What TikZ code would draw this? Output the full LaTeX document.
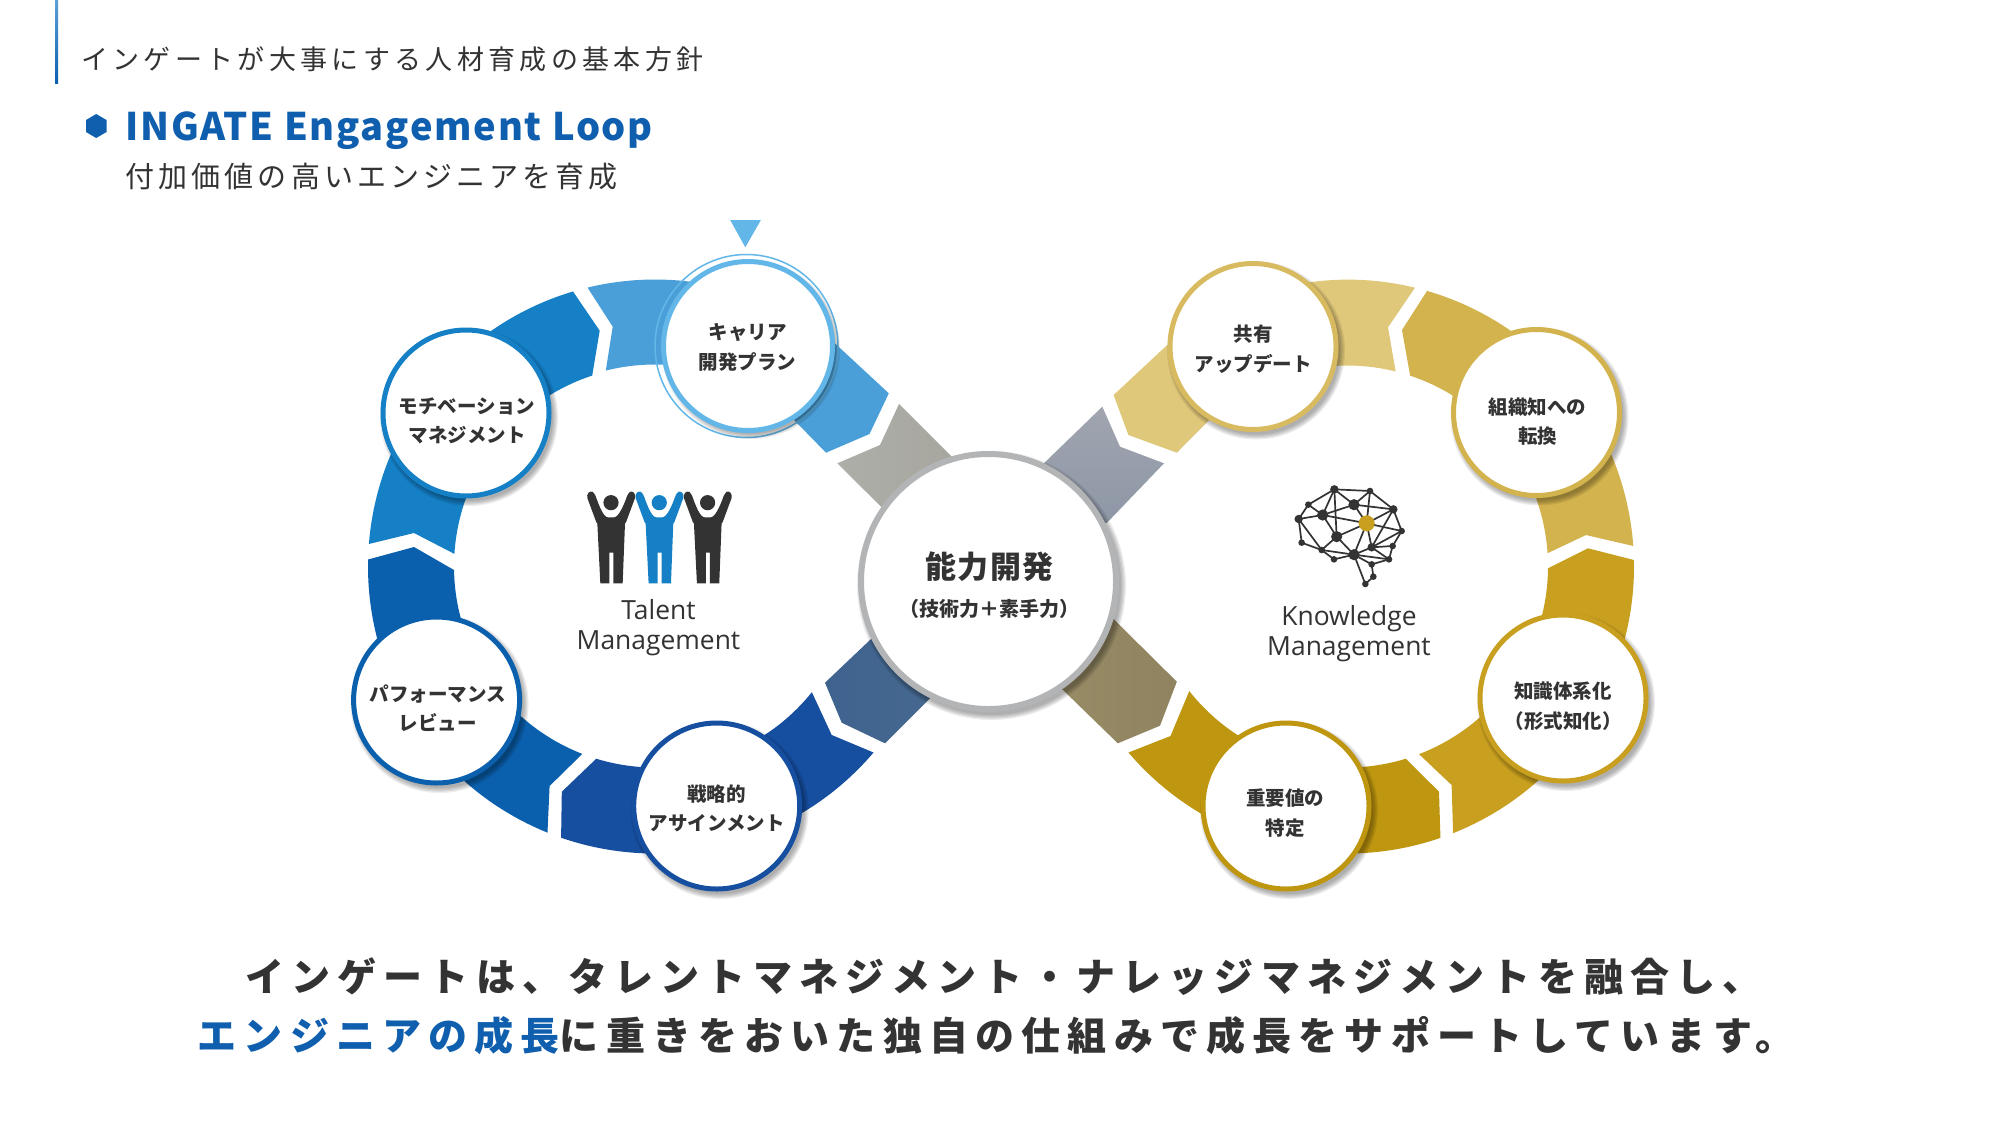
\documentclass[tikz,border=0pt]{standalone}
\usepackage{fontspec}
\usetikzlibrary{calc}
\newfontfamily\jpbase{Noto Sans CJK JP}
\newfontfamily\jphead[LetterSpace=16]{Noto Sans CJK JP}
\newfontfamily\jpsub[LetterSpace=14]{Noto Sans CJK JP}
\newfontfamily\jptitle[LetterSpace=4.6]{Noto Sans CJK JP}
\newfontfamily\jpbig[LetterSpace=18.4]{Noto Sans CJK JP}
\newfontfamily\jpcore[LetterSpace=5]{Noto Sans CJK JP}
\newfontfamily\latlabel{Open Sans}
\definecolor{ink}{HTML}{333333}
\definecolor{cCareer}{HTML}{4B9FD9}
\definecolor{cMotiv}{HTML}{1580C6}
\definecolor{cPerf}{HTML}{0B60AE}
\definecolor{cStrat}{HTML}{164EA0}
\definecolor{cShare}{HTML}{DFC87A}
\definecolor{cOrg}{HTML}{D3B34E}
\definecolor{cKnow}{HTML}{C89F1E}
\definecolor{cGold}{HTML}{BE960F}
\definecolor{cTitle}{HTML}{0F5FAE}
\definecolor{cCore}{HTML}{B2B4B6}
\definecolor{cMark}{HTML}{63B7E8}
\definecolor{cBar}{HTML}{5BA0D8}
\definecolor{armGrayA}{HTML}{AEAEA9}
\definecolor{armGrayB}{HTML}{A6A69E}
\definecolor{armSteelA}{HTML}{A0A5AF}
\definecolor{armSteelB}{HTML}{8D96A6}
\definecolor{armNavyA}{HTML}{3F638F}
\definecolor{armNavyB}{HTML}{47698F}
\definecolor{armTanA}{HTML}{9A8E68}
\definecolor{armTanB}{HTML}{8F8360}
\tikzset{
  stagebox/.style={circle,fill=white,line width=5pt,minimum size=166pt,inner sep=0pt},
  stagetext/.style={inner sep=0pt,text=ink,align=center,font=\jpbase\bfseries\fontsize{19.5}{29.5}\selectfont},
  headtext/.style={anchor=base west,inner sep=0pt,text=ink},
  mgmt/.style={align=center,text=ink,inner sep=0pt,font=\latlabel\fontsize{26.4}{30}\selectfont},
  brainedge/.style={draw=ink,line width=1.7pt},
}
\newcommand\softshadow[3]{%
  \foreach \sd in {4,2.8,1.6,0.4,-1}{\fill[black,opacity=.07] (#1+3,#2-4) circle ({#3+\sd});}}
% name, x, y, colour, text dx, text dy, text
\newcommand\stagenode[7]{%
  \softshadow{#2}{#3}{85}
  \node[stagebox,draw=#4] (#1) at (#2,#3) {};
  \node[stagetext] (#1-text) at (#2+#5,#3+#6) {#7};}
\newcommand\personicon[2]{%
  \begin{scope}[shift={(#1,-470)},x=.3333pt,y=-.3333pt]
    \fill[#2,rounded corners=3pt] (79,76) -- (92,61) -- (104,70) .. controls (118,110) and (131,142) .. (153,142)
      .. controls (175,142) and (190,110) .. (204,70) -- (216,61) -- (228,76) -- (195,165) -- (112,165) -- cycle;
    \fill[#2] (112,160) -- (121,340) -- (148,340) -- (148,248) -- (160,248) -- (160,340) -- (188,340) -- (195,160) -- cycle;
    \fill[#2] (153,98) circle (7.6pt);
  \end{scope}}
\begin{document}
\begin{tikzpicture}[x=1pt,y=1pt]
\useasboundingbox (0,0) rectangle (2001,-1125);
\fill[white] (0,0) rectangle (2001,-1125);
\shade[top color=cBar,bottom color=cPerf] (55,0) rectangle (58,-83);

% heading
\node[headtext] (head) at (81,-69.5) {\jphead\fontsize{27}{30}\selectfont インゲートが大事にする人材育成の基本方針};
\fill[cTitle] (96.2,-114) -- (106.5,-120) -- (106.5,-132) -- (96.2,-138) -- (86,-132) -- (86,-120) -- cycle;
\node[headtext,text=cTitle] (title) at (125,-140.5) {\jptitle\bfseries\fontsize{38}{44}\selectfont INGATE Engagement Loop};
\node[headtext] (subtitle) at (125.5,-187) {\jpsub\fontsize{29}{34}\selectfont 付加価値の高いエンジニアを育成};

\coordinate (L) at (655,-566.5);
\coordinate (R) at (1347,-566.5);

% left ring
\fill[cStrat] (L) ++(-40.4:287) arc[start angle=-40.4,end angle=-109.1,radius=287]
  -- (561.8,-791.7) -- ($(L)+(-107:201)$) arc[start angle=-107,end angle=-38.7,radius=201] -- (831.7,-735) -- cycle;
\fill[cPerf] (L) ++(-112:287) arc[start angle=-112,end angle=-181.4,radius=287]
  -- (414,-547) -- ($(L)+(-179:201)$) arc[start angle=-179,end angle=-111.2,radius=201] -- (549.6,-786) -- cycle;
\fill[cMotiv] (L) ++(175.5:287) arc[start angle=175.5,end angle=106.6,radius=287]
  -- (599.7,-330.7) -- ($(L)+(108.2:201)$) arc[start angle=108.2,end angle=176.4,radius=201] -- (414,-533) -- cycle;
\fill[cCareer] (L) ++(103.6:287) arc[start angle=103.6,end angle=52,radius=287]
  -- (888.8,-393.3) -- (869.5,-434) -- (826,-452.7) -- ($(L)+(46.6:202)$) arc[start angle=46.6,end angle=104.1,radius=202] -- (612.7,-326.7) -- cycle;

% right ring
\fill[cGold] (R) ++(220.4:287) arc[start angle=220.4,end angle=289,radius=287]
  -- (1439,-791.7) -- ($(R)+(287:201)$) arc[start angle=287,end angle=218.3,radius=201] -- (1170.5,-736) -- cycle;
\fill[cKnow] (R) ++(291.7:287) arc[start angle=291.7,end angle=361.3,radius=287]
  -- (1588,-548.3) -- ($(R)+(359.5:201)$) arc[start angle=359.5,end angle=291,radius=201] -- (1451.6,-785) -- cycle;
\fill[cOrg] (R) ++(4.1:287) arc[start angle=4.1,end angle=73.8,radius=287]
  -- (1402,-330) -- ($(R)+(71.7:201)$) arc[start angle=71.7,end angle=3.8,radius=201] -- (1585.9,-535) -- cycle;
\fill[cShare] (R) ++(76.3:287) arc[start angle=76.3,end angle=129.3,radius=283]
  -- (1113.6,-395) -- (1128.4,-435) -- (1176.8,-452.7) -- ($(R)+(133.8:201)$) arc[start angle=133.8,end angle=76,radius=201] -- (1388,-327.3) -- cycle;

% arms into the centre
\shade[left color=armGrayA,right color=armGrayB]
  (899,-404) -- (880,-445) -- (837.3,-463.3) -- (881.7,-507.3) -- (930,-530) -- (965,-470) -- (950,-455) -- cycle;
\shade[top color=armSteelA,bottom color=armSteelB]
  (1102.3,-406.7) -- (1120,-446.7) -- (1164,-463.3) -- (1107,-522.7) -- (1060,-530) -- (1030,-480) -- (1045.5,-461.7) -- cycle;
\shade[left color=armNavyA,right color=armNavyB]
  (825,-682.7) -- (841.7,-722.7) -- (885,-743.3) -- (930,-698.3) -- (950,-660) -- (890,-620) -- (870.7,-639.3) -- cycle;
\shade[left color=armTanA,right color=armTanB]
  (1176.8,-681.7) -- (1160,-725.7) -- (1117.8,-743.3) -- (1063,-690) -- (1030,-670) -- (1095,-600) -- (1114.5,-620) -- cycle;

% marker above the active stage
\fill[cMark] (730.2,-220) -- (760.9,-220) -- (745.3,-247.3) -- cycle;

% stages, left ring
\draw[cMark,line width=1.5pt] (746.5,-346) circle (91.5);
\softshadow{748}{-346}{85}
\node[stagebox,draw=cMark,minimum size=169pt] (career) at (748,-346) {};
\node[stagetext] (career-text) at (747.5,-347.5) {キャリア\\開発プラン};
\stagenode{motivation}{466}{-413}{cMotiv}{1}{-8}{モチベーション\\マネジメント}
\stagenode{performance}{436.6}{-700}{cPerf}{1}{-8}{パフォーマンス\\レビュー}
\stagenode{strategic}{716.7}{-806}{cStrat}{0}{-2.5}{戦略的\\アサインメント}

% stages, right ring
\stagenode{share}{1253}{-346.5}{cOrg!60!cShare}{0}{-2.5}{共有\\アップデート}
\stagenode{orgknow}{1536.5}{-412.5}{cOrg}{1}{-9}{組織知への\\転換}
\stagenode{systematize}{1563}{-698}{cKnow}{0}{-8}{知識体系化\\（形式知化）}
\stagenode{keyvalue}{1286}{-806}{cGold}{-1}{-7}{重要値の\\特定}

% centre
\foreach \sd in {4,2.8,1.6,0.4,-1}{\fill[black,opacity=.07] (991.5,-585.5) circle ({130.5+\sd});}
\node[circle,fill=white,draw=cCore,line width=6pt,minimum size=255pt,inner sep=0pt] (core) at (988.5,-581.5) {};
\node[inner sep=0pt,text=ink,align=center] (core-text) at (989.5,-585)
  {{\jpcore\bfseries\fontsize{31}{40}\selectfont 能力開発}\\[16pt]{\jpbase\bfseries\fontsize{20}{24}\selectfont （技術力＋素手力）}};

% people icon
\personicon{560}{ink}
\personicon{608.3}{cMotiv}
\personicon{656.6}{ink}
\node[mgmt] (talent) at (658.5,-628) {Talent\\Management};

% brain icon
\begin{scope}[shift={(1270,-470)},x=.3333pt,y=-.3333pt]
  \coordinate (a) at (193,58); \coordinate (b) at (300,63); \coordinate (c) at (115,104);
  \coordinate (d) at (252,104); \coordinate (e) at (370,118); \coordinate (f) at (158,135);
  \coordinate (g) at (86,147); \coordinate (y) at (290,160); \coordinate (h) at (395,183);
  \coordinate (i) at (200,200); \coordinate (j) at (95,218); \coordinate (k) at (368,228);
  \coordinate (l) at (305,232); \coordinate (m) at (155,240); \coordinate (n) at (252,254);
  \coordinate (o) at (192,268); \coordinate (p) at (357,268); \coordinate (q) at (305,283);
  \coordinate (r) at (310,320); \coordinate (s) at (286,342);
  \foreach \u/\v in {a/b,a/c,a/f,a/i,a/d,b/d,b/e,b/y,c/g,c/f,g/f,g/j,g/m,f/i,f/d,f/y,d/e,d/y,e/y,e/h,e/l,y/h,y/i,y/l,y/n,h/k,h/l,k/l,k/p,l/n,l/p,i/m,i/n,j/m,m/o,m/n,n/o,n/p,n/q,q/p,n/s,q/r,r/s}
    {\draw[brainedge] (\u) -- (\v);}
  \foreach \u in {f,d,i,n}{\fill[ink] (\u) circle (5.6pt);}
  \foreach \u in {a,g,e,l}{\fill[ink] (\u) circle (4.2pt);}
  \foreach \u in {b,c,h,j,k,m,o,p,q,r,s}{\fill[ink] (\u) circle (3.3pt);}
  \fill[cKnow] (y) circle (8pt);
\end{scope}
\node[mgmt] (knowledge) at (1349,-634) {Knowledge\\Management};

% closing statement
\node[headtext] (closing1) at (245,-991) {\jpbig\bfseries\fontsize{39}{44}\selectfont インゲートは、タレントマネジメント・ナレッジマネジメントを融合し、};
\node[headtext] (closing2) at (197.5,-1050) {\jpbig\bfseries\fontsize{39}{44}\selectfont \textcolor{cTitle}{エンジニアの成長}に重きをおいた独自の仕組みで成長をサポートしています。};
\end{tikzpicture}
\end{document}
